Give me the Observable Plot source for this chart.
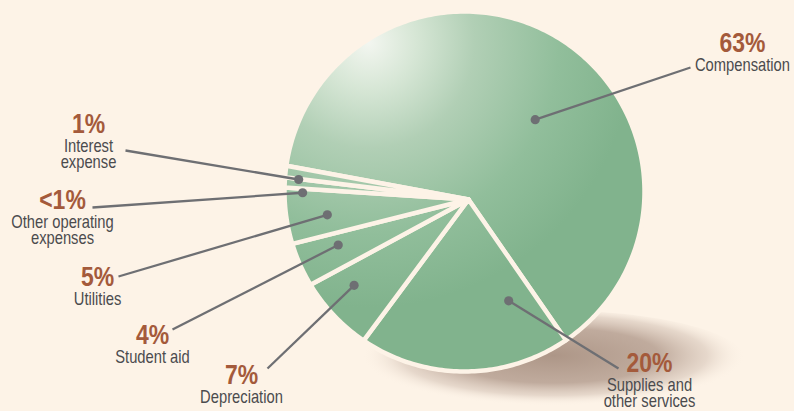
<!DOCTYPE html>
<html>
<head>
<meta charset="utf-8">
<script src="https://cdn.jsdelivr.net/npm/d3@7"></script>
<script src="https://cdn.jsdelivr.net/npm/@observablehq/plot@0.6"></script>
<style>
  html, body { margin: 0; padding: 0; background: #fdf3e7; }
  #chart svg { display: block; }
</style>
</head>
<body>
<div id="chart"></div>
<script>
// Operating expenses by category (share of total, %)
const categories = ["Compensation", "Supplies and other services", "Depreciation", "Student aid", "Utilities", "Other operating expenses", "Interest expense"];
const shares = [63, 20, 7, 4, 5, 0.9, 1];
const shareLabels = ["63%", "20%", "7%", "4%", "5%", "<1%", "1%"];
const nameLines = [["Compensation"], ["Supplies and", "other services"], ["Depreciation"], ["Student aid"], ["Utilities"], ["Other operating", "expenses"], ["Interest", "expense"]];

// ---- layout (units of the x/y scales) ----
const W = 794, H = 411;
const disk = {cx: 464, cy: 191, r: 180};   // outline of the pie
const hub = {x: 468, y: 199};              // point the slice edges radiate from
const startDeg = -79.5;                    // where the first slice begins, clockwise from 12 o'clock
// leader anchor on each slice: distance from hub and a turn (deg) off the slice's mid-angle
const anchorDist = [104, 109, 143, 138, 142, 166, 171];
const anchorTurn = [7, -22.6, 4, 2, -1, -3, -2];
// callout text: centre x, baseline of the percentage, and where the leader line starts
const calloutX = [742, 649, 241, 152, 97, 62, 88];
const calloutY = [51, 371, 383, 343, 285, 208, 132];
const leaderFrom = [[690, 67], [618, 368], [267, 368], [172, 329], [118, 276], [92, 207], [125, 150]];

const bg = "#fdf3e7";
const font = "'Liberation Sans', Arial, sans-serif";
const narrow = 0.82;                       // horizontal squeeze for a condensed face

// ---- geometry ----
const rad = Math.PI / 180;
const pie = d3.pie().sort(null).value(d => d)
  .startAngle(startDeg * rad).endAngle(startDeg * rad + 2 * Math.PI)(shares);

function rim(a) {
  // where a ray leaving the hub at angle a meets the pie outline
  const dx = Math.sin(a), dy = -Math.cos(a);
  const ox = hub.x - disk.cx, oy = hub.y - disk.cy;
  const b = dx * ox + dy * oy, c = ox * ox + oy * oy - disk.r * disk.r;
  const t = -b + Math.sqrt(b * b - c);
  return [hub.x + t * dx, hub.y + t * dy];
}

const slicePoints = pie.flatMap((p, i) => {
  const n = Math.max(2, Math.ceil((p.endAngle - p.startAngle) / rad));
  const pts = [[hub.x, hub.y]];
  for (let k = 0; k <= n; k++) pts.push(rim(p.startAngle + (p.endAngle - p.startAngle) * k / n));
  pts.push([hub.x, hub.y]);
  return pts.map(([x, y]) => ({category: categories[i], x, y}));
});

const anchors = pie.map((p, i) => {
  const a = (p.startAngle + p.endAngle) / 2 + anchorTurn[i] * rad;
  return {
    category: categories[i],
    x: hub.x + anchorDist[i] * Math.sin(a),
    y: hub.y - anchorDist[i] * Math.cos(a),
    x1: leaderFrom[i][0],
    y1: leaderFrom[i][1]
  };
});

const shadowEllipse = d3.range(0, 361, 3).map(t => ({
  x: 553 + 192 * Math.cos(t * rad),
  y: 360 + 50 * Math.sin(t * rad)
}));

const pctText = categories.map((c, i) => ({x: calloutX[i], y: calloutY[i], text: shareLabels[i]}));
const nameText = categories.flatMap((c, i) =>
  nameLines[i].map((line, k) => ({x: calloutX[i], y: calloutY[i] + 19.5 + 16 * k, text: line})));

const chart = Plot.plot({
  width: W,
  height: H,
  margin: 0,
  x: {domain: [0, W], range: [0, W], axis: null},
  y: {domain: [0, H], range: [0, H], axis: null},
  style: {background: "transparent", fontFamily: font},
  marks: [
    Plot.line(shadowEllipse, {x: "x", y: "y", fill: "url(#groundShadow)", stroke: "none", curve: "linear"}),
    Plot.line(slicePoints, {
      x: "x", y: "y", z: "category",
      fill: "url(#pieShade)", stroke: bg, strokeWidth: 4.5, strokeLinejoin: "round", curve: "linear"
    }),
    Plot.link(anchors, {x1: "x1", y1: "y1", x2: "x", y2: "y", stroke: "#6e6f73", strokeWidth: 2.3}),
    Plot.dot(anchors, {x: "x", y: "y", r: 4.6, fill: "#6e6f73", stroke: "none"}),
    Plot.text(pctText, {
      x: "x", y: "y", text: "text", lineAnchor: "bottom", textAnchor: "middle",
      fontSize: 28, fontWeight: "bold", fill: "#a45a3b", fontFamily: font
    }),
    Plot.text(nameText, {
      x: "x", y: "y", text: "text", lineAnchor: "bottom", textAnchor: "middle",
      fontSize: 18, fill: "#4b4b4e", fontFamily: font
    })
  ]
});

// condensed lettering: squeeze each label about its anchor
d3.select(chart).selectAll("text").each(function() {
  const t = this.getAttribute("transform");
  if (t) this.setAttribute("transform", `${t} scale(${narrow},1)`);
});

// gradients used by the pie and its ground shadow
const defs = d3.select(chart).insert("defs", ":first-child");
const shade = defs.append("radialGradient").attr("id", "pieShade")
  .attr("gradientUnits", "userSpaceOnUse")
  .attr("cx", 368).attr("cy", 42).attr("r", 265);
[[0, "#f3f6f0"], [0.18, "#d6e6d5"], [0.4, "#b1cfb5"], [0.72, "#91be9b"], [1, "#81b38d"]]
  .forEach(([o, c]) => shade.append("stop").attr("offset", o).attr("stop-color", c));
const ground = defs.append("radialGradient").attr("id", "groundShadow")
  .attr("cx", 0.5).attr("cy", 0.45).attr("r", 0.5);
[[0, "#ad9687", 1], [0.55, "#b9a395", 0.9], [0.8, "#d3c1b4", 0.55], [1, "#fdf3e7", 0]]
  .forEach(([o, c, a]) => ground.append("stop").attr("offset", o).attr("stop-color", c).attr("stop-opacity", a));

document.getElementById("chart").append(chart);
</script>
</body>
</html>
